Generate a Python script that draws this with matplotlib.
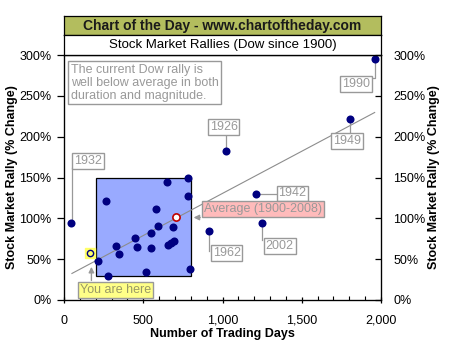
import matplotlib
matplotlib.use("Agg")
import matplotlib.pyplot as plt
from matplotlib.patches import Rectangle
from matplotlib.ticker import MultipleLocator, FuncFormatter

plt.rcParams['font.family'] = ['Liberation Sans', 'DejaVu Sans']

# ---- data ----
days = [47, 267, 326, 345, 215, 278, 450, 463, 551, 547, 515, 583, 596, 652,
        658, 673, 692, 686, 780, 785, 793, 915, 1209, 1252, 1020, 1807, 1960]
rally = [94, 121, 66, 56, 48, 29, 76, 65, 64, 82, 34, 111, 91, 144,
         67, 70, 72, 89, 150, 127, 38, 85, 130, 94, 182, 222, 295]
avg_point = (709, 102)
current_point = (164, 58)
trend_x = [50, 1960]
trend_y = [32.5, 229.6]
box_x = [200, 800]
box_y = [30, 150]
y_ticks = [0, 50, 100, 150, 200, 250, 300]
x_ticks = [0, 500, 1000, 1500, 2000]

# labelled years: (label, point day, point pct, label centre day, label centre pct)
year_labels = [
    ("1932", 47, 94, 150, 170),
    ("1926", 1020, 182, 1007, 211.5),
    ("1990", 1960, 295, 1844, 264.5),
    ("1949", 1807, 222, 1785, 194.5),
    ("1942", 1209, 130, 1442, 130.5),
    ("2002", 1252, 94, 1361, 66),
    ("1962", 915, 85, 1026, 58),
]

W, H = 450, 353
fig = plt.figure(figsize=(W / 100, H / 100), dpi=100)
L, R, T, B = 64, 381, 55, 300
ax = fig.add_axes([L / W, 1 - B / H, (R - L) / W, (B - T) / H])

# title bands
t1 = fig.add_axes([L / W, 1 - 35 / H, (R - L) / W, 19 / H])
t1.set_facecolor('#B3BD5E')
t1.set_xticks([]); t1.set_yticks([])
t1.text(0.5, 0.48, "Chart of the Day - www.chartoftheday.com", ha='center', va='center',
        fontsize=10, fontweight='bold', color='#1a1a1a', transform=t1.transAxes)
t2 = fig.add_axes([L / W, 1 - 55 / H, (R - L) / W, 20 / H])
t2.set_facecolor('white')
t2.set_xticks([]); t2.set_yticks([])
t2.text(0.5, 0.5, "Stock Market Rallies (Dow since 1900)", ha='center', va='center',
        fontsize=9.5, color='black', transform=t2.transAxes)
for a in (t1, t2):
    for s in a.spines.values():
        s.set_linewidth(0.9)

gray = '#999999'

# shaded box
ax.add_patch(Rectangle((box_x[0], box_y[0]), box_x[1] - box_x[0], box_y[1] - box_y[0],
                       facecolor='#99AAFF', edgecolor='black', linewidth=0.9, zorder=1))

# trend line
ax.plot(trend_x, trend_y, color='#8c8c8c', linewidth=0.8, zorder=2)

# points
ax.plot(days, rally, 'o', color='#000080', markersize=5.8, markeredgewidth=0, zorder=4)

# average point
ax.plot([avg_point[0]], [avg_point[1]], 'o', markerfacecolor='white', markeredgecolor='#C00000',
        markersize=5.2, markeredgewidth=1.2, zorder=5)

# current point
ax.plot([current_point[0]], [current_point[1]], 's', color='#FFFF66', markersize=7, zorder=5)
ax.plot([current_point[0]], [current_point[1]], 'o', markerfacecolor='none', markeredgecolor='#000080',
        markersize=4.5, markeredgewidth=1.0, zorder=6)

bbox_gray = dict(boxstyle='square,pad=0.15', facecolor='white', edgecolor=gray, linewidth=1.0)

for lab, px, py, lx, ly in year_labels:
    ax.text(lx, ly, lab, ha='center', va='center', fontsize=9, color=gray,
            bbox=bbox_gray, zorder=7)

# leader lines
ax.plot([50, 50], [96, 162], color=gray, lw=0.9, zorder=3)          # 1932
ax.plot([1020, 1020], [182, 204], color=gray, lw=0.9, zorder=3)     # 1926
ax.plot([1960, 1960, 1940], [295, 272, 272], color=gray, lw=0.9, zorder=3)  # 1990
ax.plot([1807, 1807], [222, 202], color=gray, lw=0.9, zorder=3)     # 1949
ax.plot([1209, 1340], [130, 130], color=gray, lw=0.9, zorder=3)     # 1942
ax.plot([1252, 1252], [94, 74], color=gray, lw=0.9, zorder=3)       # 2002
ax.plot([915, 915], [85, 60], color=gray, lw=0.9, zorder=3)         # 1962

# comment box
ax.text(42, 289, "The current Dow rally is\nwell below average in both\nduration and magnitude.",
        ha='left', va='top', fontsize=9, color=gray, linespacing=1.1,
        bbox=dict(boxstyle='square,pad=0.2', facecolor='white', edgecolor=gray, linewidth=1.0),
        zorder=7)

# average label
ax.text(1254, 111, "Average (1900-2008)", ha='center', va='center', fontsize=9, color=gray,
        bbox=dict(boxstyle='square,pad=0.15', facecolor='#FFBBBB', edgecolor=gray, linewidth=1.0),
        zorder=7)
ax.annotate("", xy=(800, 101), xytext=(877, 101),
            arrowprops=dict(arrowstyle='-|>', color=gray, lw=1.0, mutation_scale=8), zorder=6)

# you are here label
ax.text(325, 12.6, "You are here", ha='center', va='center', fontsize=9, color='#999966',
        bbox=dict(boxstyle='square,pad=0.15', facecolor='#FFFF88', edgecolor=gray, linewidth=1.0),
        zorder=7)
ax.annotate("", xy=(173, 44), xytext=(173, 20.5),
            arrowprops=dict(arrowstyle='-|>', color=gray, lw=1.0, mutation_scale=8), zorder=6)

# axes formatting
ax.set_xlim(0, 2000)
ax.set_ylim(0, 300)
ax.set_xticks(x_ticks)
ax.xaxis.set_minor_locator(MultipleLocator(100))
ax.xaxis.set_major_formatter(FuncFormatter(lambda v, p: f"{int(v):,}"))
ax.set_yticks(y_ticks)
ax.yaxis.set_major_formatter(FuncFormatter(lambda v, p: f"{int(v)}%"))
ax.tick_params(axis='x', which='major', direction='inout', length=5, width=0.9, labelsize=9, pad=8)
ax.tick_params(axis='x', which='minor', direction='in', length=3, width=0.8)
ax.tick_params(axis='y', which='major', direction='out', length=5, width=0.9, labelsize=9, pad=4)
for s in ax.spines.values():
    s.set_linewidth(0.9)

ax2 = ax.twinx()
ax2.set_ylim(0, 300)
ax2.set_yticks(y_ticks)
ax2.yaxis.set_major_formatter(FuncFormatter(lambda v, p: f"{int(v)}%"))
ax2.tick_params(axis='y', direction='in', length=4, width=0.9, labelsize=9, pad=9)

ax.set_xlabel("Number of Trading Days", fontsize=9, fontweight='bold', labelpad=1)
fig.text(12 / W, 1 - 177.5 / H, "Stock Market Rally (% Change)", rotation=90, ha='center',
         va='center', fontsize=9, fontweight='bold')
fig.text(434 / W, 1 - 177.5 / H, "Stock Market Rally (% Change)", rotation=90, ha='center',
         va='center', fontsize=9, fontweight='bold')

fig.savefig("out.png", dpi=100)
